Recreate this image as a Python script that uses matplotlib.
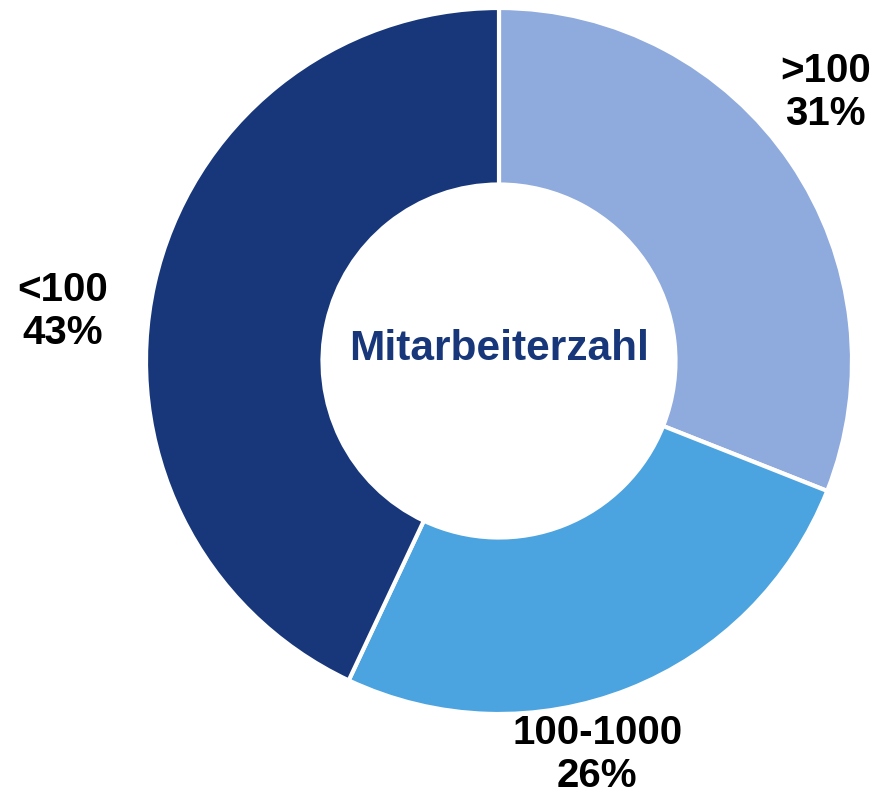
import matplotlib
matplotlib.use("Agg")
import matplotlib.pyplot as plt

categories = [">100", "100-1000", "<100"]
values = [31, 26, 43]
colors = ["#8FAADC", "#4BA3DF", "#17377A"]
center_title = "Mitarbeiterzahl"

plt.rcParams['font.family'] = ['Liberation Sans', 'DejaVu Sans']

W, H = 886, 794
fig = plt.figure(figsize=(W / 100, H / 100), dpi=100)
cx, cy, R = 499, 361, 353
ax = fig.add_axes([(cx - R) / W, (H - cy - R) / H, 2 * R / W, 2 * R / H])
ax.axis('off')

ax.pie(values, colors=colors, startangle=90, counterclock=False, radius=1,
       wedgeprops=dict(width=0.5, edgecolor='white', linewidth=3))
ax.set_xlim(-1, 1)
ax.set_ylim(-1, 1)
ax.set_aspect('equal')

label_pos = [(0.925, 0.76), (0.278, -1.115), (-1.235, 0.14)]
for cat, v, (x, y) in zip(categories, values, label_pos):
    ax.text(x, y, f"{cat}\n{v}%", ha='center', va='center', fontsize=29,
            fontweight='bold', color='black', linespacing=1.15, clip_on=False)

ax.text(0, 0.035, center_title, ha='center', va='center', fontsize=30.5,
        fontweight='bold', color='#17377A')

fig.savefig("out.png", dpi=100)
